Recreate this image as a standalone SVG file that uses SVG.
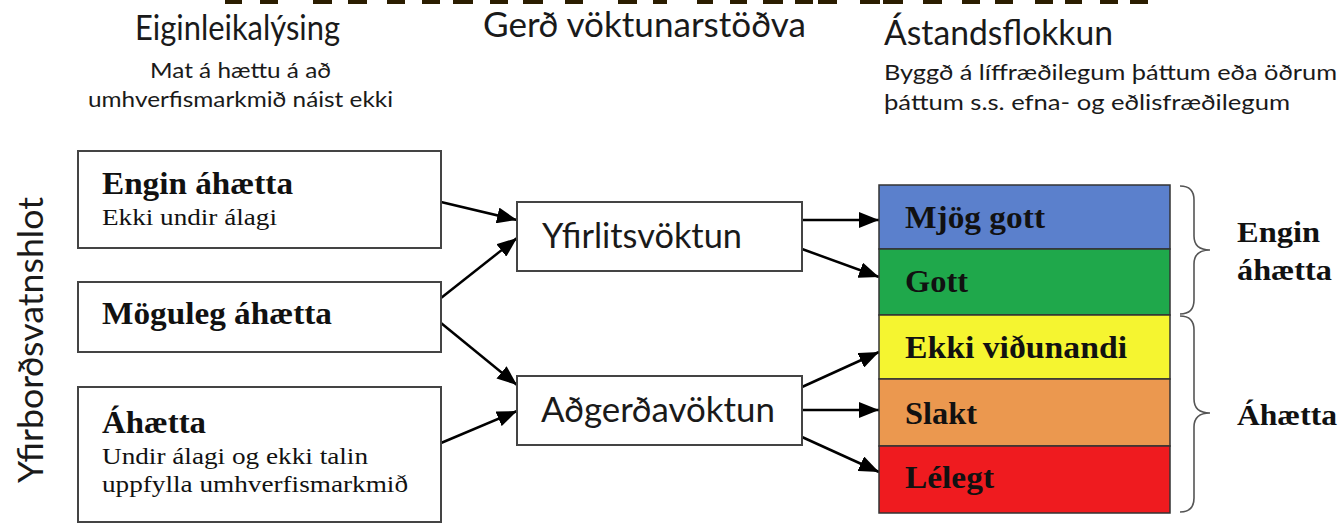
<svg xmlns="http://www.w3.org/2000/svg" width="1344" height="524" viewBox="0 0 1344 524">
<defs>
<marker id="ah" markerWidth="20" markerHeight="16" refX="20" refY="8" orient="auto" markerUnits="userSpaceOnUse" viewBox="0 0 20 16">
<path d="M0,0 L20,8 L0,16 Z" fill="#000"/>
</marker>
<style>
.hd{font-family:Lato,"Open Sans","Liberation Sans",sans-serif;fill:#1a1a1a}
.sv{font-family:"Liberation Serif","Times New Roman",serif;fill:#111}
.b{font-weight:bold}
.box{fill:#fff;stroke:#444;stroke-width:2}
.band{stroke:#333;stroke-width:1.5}
.con{stroke:#000;stroke-width:2.5;fill:none;marker-end:url(#ah)}
.brace{fill:none;stroke:#555;stroke-width:1.6}
.dash{fill:#2b1d00}
</style>
</defs>
<rect width="1344" height="524" fill="#fff"/>
<g id="topdashes">
<rect class="dash" x="225" y="0" width="17" height="4"/><rect class="dash" x="260" y="0" width="18" height="4"/>
<rect class="dash" x="313" y="0" width="19" height="4"/><rect class="dash" x="348" y="0" width="19" height="4"/>
<rect class="dash" x="387" y="0" width="18" height="4"/><rect class="dash" x="422" y="0" width="18" height="4"/>
<rect class="dash" x="453" y="0" width="20" height="4"/><rect class="dash" x="490" y="0" width="18" height="4"/>
<rect class="dash" x="523" y="0" width="20" height="4"/><rect class="dash" x="565" y="0" width="18" height="4"/>
<rect class="dash" x="618" y="0" width="19" height="4"/><rect class="dash" x="653" y="0" width="14" height="4"/>
<rect class="dash" x="697" y="0" width="16" height="4"/><rect class="dash" x="730" y="0" width="17" height="4"/>
<rect class="dash" x="763" y="0" width="20" height="4"/><rect class="dash" x="795" y="0" width="18" height="4"/>
<rect class="dash" x="818" y="0" width="19" height="4"/><rect class="dash" x="860" y="0" width="20" height="4"/>
<rect class="dash" x="883" y="0" width="20" height="4"/><rect class="dash" x="923" y="0" width="19" height="4"/>
<rect class="dash" x="962" y="0" width="18" height="4"/><rect class="dash" x="995" y="0" width="18" height="4"/>
<rect class="dash" x="1035" y="0" width="18" height="4"/><rect class="dash" x="1065" y="0" width="17" height="4"/>
<rect class="dash" x="1100" y="0" width="18" height="4"/><rect class="dash" x="1130" y="0" width="18" height="4"/>
</g>
<g id="headers">
<text class="hd" x="135" y="40" font-size="35" textLength="205" lengthAdjust="spacingAndGlyphs">Eiginleikalýsing</text>
<text class="hd" x="150" y="78" font-size="22" textLength="181" lengthAdjust="spacingAndGlyphs">Mat á hættu á að</text>
<text class="hd" x="88" y="107" font-size="22" textLength="305" lengthAdjust="spacingAndGlyphs">umhverfismarkmið náist ekki</text>
<text class="hd" x="483" y="37" font-size="35" textLength="323" lengthAdjust="spacingAndGlyphs">Gerð vöktunarstöðva</text>
<text class="hd" x="884" y="45" font-size="35" textLength="229" lengthAdjust="spacingAndGlyphs">Ástandsflokkun</text>
<text class="hd" x="884" y="80" font-size="22" textLength="453" lengthAdjust="spacingAndGlyphs">Byggð á líffræðilegum þáttum eða öðrum</text>
<text class="hd" x="884" y="110" font-size="22" textLength="406" lengthAdjust="spacingAndGlyphs">þáttum s.s. efna- og eðlisfræðilegum</text>
<text class="hd" font-size="34" text-anchor="middle" transform="translate(43,340) rotate(-90)" textLength="286" lengthAdjust="spacingAndGlyphs">Yfirborðsvatnshlot</text>
</g>
<g id="connectors">
<line class="con" x1="441" y1="202" x2="517" y2="220"/>
<line class="con" x1="441" y1="298" x2="517" y2="238"/>
<line class="con" x1="441" y1="323" x2="517" y2="385"/>
<line class="con" x1="441" y1="443" x2="517" y2="411"/>
<line class="con" x1="802" y1="220" x2="879" y2="220"/>
<line class="con" x1="802" y1="249" x2="879" y2="277"/>
<line class="con" x1="802" y1="387" x2="879" y2="352"/>
<line class="con" x1="802" y1="410" x2="879" y2="410"/>
<line class="con" x1="802" y1="437" x2="879" y2="472"/>
</g>
<g id="node-engin">
<rect class="box" x="78" y="151" width="363" height="97"/>
<text class="sv b" x="102" y="194" font-size="31" textLength="191" lengthAdjust="spacingAndGlyphs">Engin áhætta</text>
<text class="sv" x="102" y="225" font-size="24" textLength="175" lengthAdjust="spacingAndGlyphs">Ekki undir álagi</text>
</g>
<g id="node-moguleg">
<rect class="box" x="78" y="282" width="363" height="70"/>
<text class="sv b" x="102" y="324" font-size="31" textLength="230" lengthAdjust="spacingAndGlyphs">Möguleg áhætta</text>
</g>
<g id="node-ahaetta">
<rect class="box" x="78" y="387" width="363" height="135"/>
<text class="sv b" x="102" y="433" font-size="31" textLength="104" lengthAdjust="spacingAndGlyphs">Áhætta</text>
<text class="sv" x="102" y="464" font-size="24" textLength="266" lengthAdjust="spacingAndGlyphs">Undir álagi og ekki talin</text>
<text class="sv" x="102" y="492" font-size="24" textLength="306" lengthAdjust="spacingAndGlyphs">uppfylla umhverfismarkmið</text>
</g>
<g id="node-yfirlit">
<rect class="box" x="517" y="202" width="285" height="69"/>
<text class="hd" x="542" y="248" font-size="34" textLength="200" lengthAdjust="spacingAndGlyphs">Yfirlitsvöktun</text>
</g>
<g id="node-adgerda">
<rect class="box" x="517" y="376" width="285" height="69"/>
<text class="hd" x="541" y="422" font-size="34" textLength="234" lengthAdjust="spacingAndGlyphs">Aðgerðavöktun</text>
</g>
<g id="node-classes">
<rect class="band" x="879" y="185" width="291" height="64" fill="#5b80cc"/>
<rect class="band" x="879" y="249" width="291" height="66" fill="#1fa84b"/>
<rect class="band" x="879" y="315" width="291" height="64" fill="#f5f530"/>
<rect class="band" x="879" y="379" width="291" height="67" fill="#eb984f"/>
<rect class="band" x="879" y="446" width="291" height="67" fill="#ef1b1f"/>
<text class="sv b" x="905" y="228" font-size="32" textLength="140" lengthAdjust="spacingAndGlyphs">Mjög gott</text>
<text class="sv b" x="905" y="292" font-size="32" textLength="63" lengthAdjust="spacingAndGlyphs">Gott</text>
<text class="sv b" x="905" y="358" font-size="32" textLength="222" lengthAdjust="spacingAndGlyphs">Ekki viðunandi</text>
<text class="sv b" x="905" y="424" font-size="32" textLength="72" lengthAdjust="spacingAndGlyphs">Slakt</text>
<text class="sv b" x="905" y="488" font-size="32" textLength="89" lengthAdjust="spacingAndGlyphs">Lélegt</text>
</g>
<g id="node-brace-engin">
<path class="brace" d="M1180,186 Q1194,186 1194,200 L1194,236 Q1194,250 1210,250 Q1194,250 1194,264 L1194,300 Q1194,314 1180,314"/>
<text class="sv b" x="1237" y="242" font-size="30" textLength="83" lengthAdjust="spacingAndGlyphs">Engin</text>
<text class="sv b" x="1237" y="280" font-size="30" textLength="95" lengthAdjust="spacingAndGlyphs">áhætta</text>
</g>
<g id="node-brace-ahaetta">
<path class="brace" d="M1180,316 Q1194,316 1194,330 L1194,399 Q1194,413 1210,413 Q1194,413 1194,427 L1194,498 Q1194,512 1180,512"/>
<text class="sv b" x="1237" y="425" font-size="30" textLength="100" lengthAdjust="spacingAndGlyphs">Áhætta</text>
</g>
</svg>
